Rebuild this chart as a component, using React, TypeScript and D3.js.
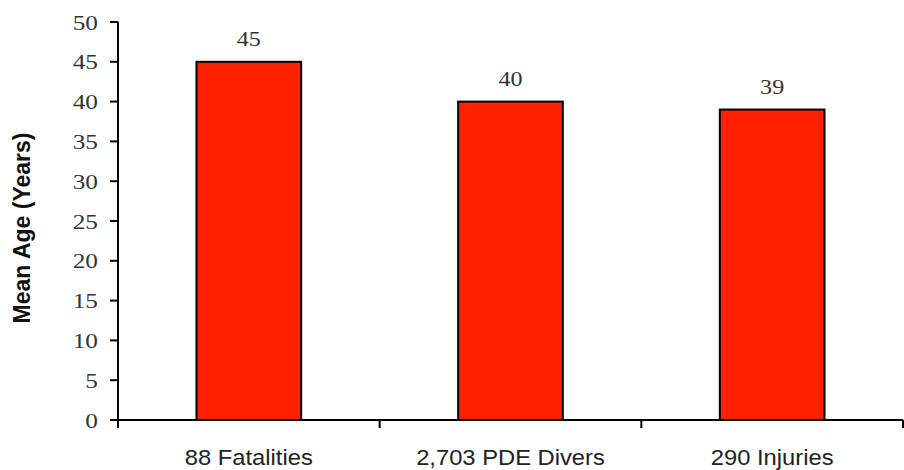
import React from "react";
import * as d3 from "d3";

const categories = ["88 Fatalities", "2,703 PDE Divers", "290 Injuries"];
const values = [45, 40, 39];
const yTicks = [0, 5, 10, 15, 20, 25, 30, 35, 40, 45, 50];
const yTitle = "Mean Age (Years)";

export default function App() {
  const W = 904, H = 470;
  const x0 = 118, x1 = 903, yBase = 420, yTop = 22;
  const x = d3.scaleBand<string>().domain(categories).range([x0, x1]).paddingInner(0.6).paddingOuter(0.3);
  const y = d3.scaleLinear().domain([0, 50]).range([yBase, yTop]);
  const sans = "'Liberation Sans', Arial, sans-serif";
  const serif = "'Liberation Serif', 'Times New Roman', serif";
  const boundaries = categories.map((_, i) => x0 + (i + 1) * (x1 - x0) / categories.length);
  return (
    <svg width={W} height={H} style={{ position: "absolute", left: 0, top: 0, background: "#fff" }}>
      {categories.map((c, i) => (
        <g key={c}>
          <rect x={x(c)!} y={y(values[i])} width={x.bandwidth()} height={yBase - y(values[i])}
            fill="#ff2000" stroke="#000" strokeWidth={2} />
          <text x={x(c)! + x.bandwidth() / 2} y={y(values[i]) - 16} textAnchor="middle"
            fontFamily={serif} fontSize={21} fill="#333"
            transform={`translate(${x(c)! + x.bandwidth() / 2},0) scale(1.15,1) translate(${-(x(c)! + x.bandwidth() / 2)},0)`}>{values[i]}</text>
          <text x={x(c)! + x.bandwidth() / 2} y={465} textAnchor="middle"
            fontFamily={sans} fontSize={22} fill="#222"
            transform={`translate(${x(c)! + x.bandwidth() / 2},0) scale(1.08,1) translate(${-(x(c)! + x.bandwidth() / 2)},0)`}>{c}</text>
        </g>
      ))}
      <line x1={x0} x2={x0} y1={y(50)} y2={yBase + 8} stroke="#000" strokeWidth={2} />
      {yTicks.map(t => (
        <g key={t}>
          <line x1={x0 - 8} x2={x0} y1={y(t)} y2={y(t)} stroke="#000" strokeWidth={2} />
          <text x={98} y={y(t)} dy="0.35em" textAnchor="end" fontFamily={serif} fontSize={22} fill="#333"
            transform={`translate(98,0) scale(1.15,1) translate(-98,0)`}>{t}</text>
        </g>
      ))}
      <line x1={x0 - 8} x2={x1} y1={yBase} y2={yBase} stroke="#000" strokeWidth={2} />
      {boundaries.map((b, i) => (
        <line key={i} x1={b} x2={b} y1={yBase} y2={yBase + 8} stroke="#000" strokeWidth={2} />
      ))}
      <text transform={`translate(30,228) rotate(-90)`} textAnchor="middle" fontFamily={sans}
        fontWeight="bold" fontSize={23} fill="#111">{yTitle}</text>
    </svg>
  );
}
